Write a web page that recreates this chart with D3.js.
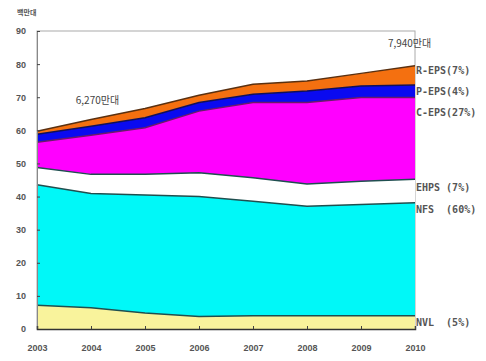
<!DOCTYPE html>
<html><head><meta charset="utf-8">
<script src="https://cdn.jsdelivr.net/npm/d3@7/dist/d3.min.js"></script>
<style>body{margin:0;background:#fff}svg{display:block}</style>
</head><body>
<svg id="c" width="486" height="361"></svg>
<script>
const years = [2003, 2004, 2005, 2006, 2007, 2008, 2009, 2010];
const yearLabels = ["2003","2004","2005","2006","2007","2008","2009","2010"];
const yTicks = [0,10,20,30,40,50,60,70,80,90];
const seriesNames = ["NVL","NFS","EHPS","C-EPS","P-EPS","R-EPS"];
const seriesLabels = ["NVL  (5%)","NFS  (60%)","EHPS (7%)","C-EPS(27%)","P-EPS(4%)","R-EPS(7%)"];
const nvl  = [7.2, 6.4, 4.8, 3.8, 4.0, 4.0, 4.0, 4.0];
const nfs  = [36.4, 34.5, 35.7, 36.2, 34.6, 33.1, 33.6, 34.1];
const ehps = [5.2, 5.8, 6.2, 7.2, 7.1, 6.7, 7.0, 7.1];
const ceps = [7.6, 11.8, 14.1, 18.6, 22.7, 24.6, 25.3, 24.7];
const peps = [2.4, 2.7, 3.0, 2.6, 2.5, 3.5, 3.5, 3.8];
const reps = [0.9, 2.1, 2.8, 2.2, 3.0, 3.0, 3.8, 5.8];
const fills = ["#f9f39c","#00f8f8","#ffffff","#ff00ff","#0a0af0","#f47010"];
const strokes = ["#1f4f4f","#1f4f4f","#1f4f4f","#6a1a6a","#10105a","#5a3010"];
const labelY = [323, 210, 188, 113, 92, 71];
const unitLabel = "백만대";
const ann = [{text:"6,270만대", x:2004.12, v:68},{text:"7,940만대", x:2009.9, v:85.3}];

const svg = d3.select("#c");
const x = d3.scaleLinear().domain([2003,2010]).range([37,415]);
const y = d3.scaleLinear().domain([0,90]).range([329,31]);

const rows = years.map((yr,i)=>({year:yr, NVL:nvl[i], NFS:nfs[i], EHPS:ehps[i], "C-EPS":ceps[i], "P-EPS":peps[i], "R-EPS":reps[i]}));
const stacked = d3.stack().keys(seriesNames)(rows);

const area = d3.area().x(d=>x(d.data.year)).y0(d=>y(d[0])).y1(d=>y(d[1]));
const topLine = d3.line().x(d=>x(d.data.year)).y(d=>y(d[1]));

svg.append("rect").attr("x",37).attr("y",31).attr("width",378).attr("height",298)
  .attr("fill","none").attr("stroke","#aaa").attr("stroke-width",1);

svg.append("g").selectAll("path").data(stacked).join("path")
  .attr("d",area).attr("fill",(d,i)=>fills[i]);
svg.append("g").selectAll("path").data(stacked).join("path")
  .attr("d",topLine).attr("fill","none").attr("stroke",(d,i)=>strokes[i]).attr("stroke-width",1.5);

const yAxis = d3.axisLeft(y).tickValues(yTicks).tickSize(-3).tickPadding(11);
const gy = svg.append("g").attr("transform","translate(37,0)").call(yAxis);
gy.select(".domain").attr("stroke","#888");
gy.selectAll(".tick line").attr("stroke","#444");
gy.selectAll("text").attr("font-family","Liberation Sans, Arial").attr("font-size",9).attr("font-weight","bold").attr("fill","#555");

const xAxis = d3.axisBottom(x).tickValues(years).tickFormat((d,i)=>yearLabels[i]).tickSize(-3).tickPadding(16);
const gx = svg.append("g").attr("transform","translate(0,329)").call(xAxis);
gx.select(".domain").attr("stroke","#333").attr("stroke-width",1.5);
gx.selectAll(".tick line").attr("stroke","#444");
gx.selectAll("text").attr("font-family","Liberation Sans, Arial").attr("font-size",9).attr("font-weight","bold").attr("fill","#555");

svg.append("g").selectAll("text").data(seriesLabels).join("text")
  .attr("x",416).attr("y",(d,i)=>labelY[i]).attr("dominant-baseline","middle")
  .attr("font-family","DejaVu Sans Mono, monospace").attr("font-size",10).attr("font-weight","bold")
  .attr("fill","#555").attr("xml:space","preserve").style("white-space","pre").text(d=>d);

svg.append("g").selectAll("text").data(ann).join("text")
  .attr("x",d=>x(d.x)).attr("y",d=>y(d.v)).attr("text-anchor","middle")
  .attr("font-family","Noto Sans CJK KR, sans-serif").attr("font-size",10).attr("fill","#444").text(d=>d.text);

svg.append("text").attr("x",17).attr("y",15).attr("font-family","Noto Sans CJK KR, sans-serif")
  .attr("font-size",7).attr("font-weight","bold").attr("fill","#555").text(unitLabel);
</script>
</body></html>
